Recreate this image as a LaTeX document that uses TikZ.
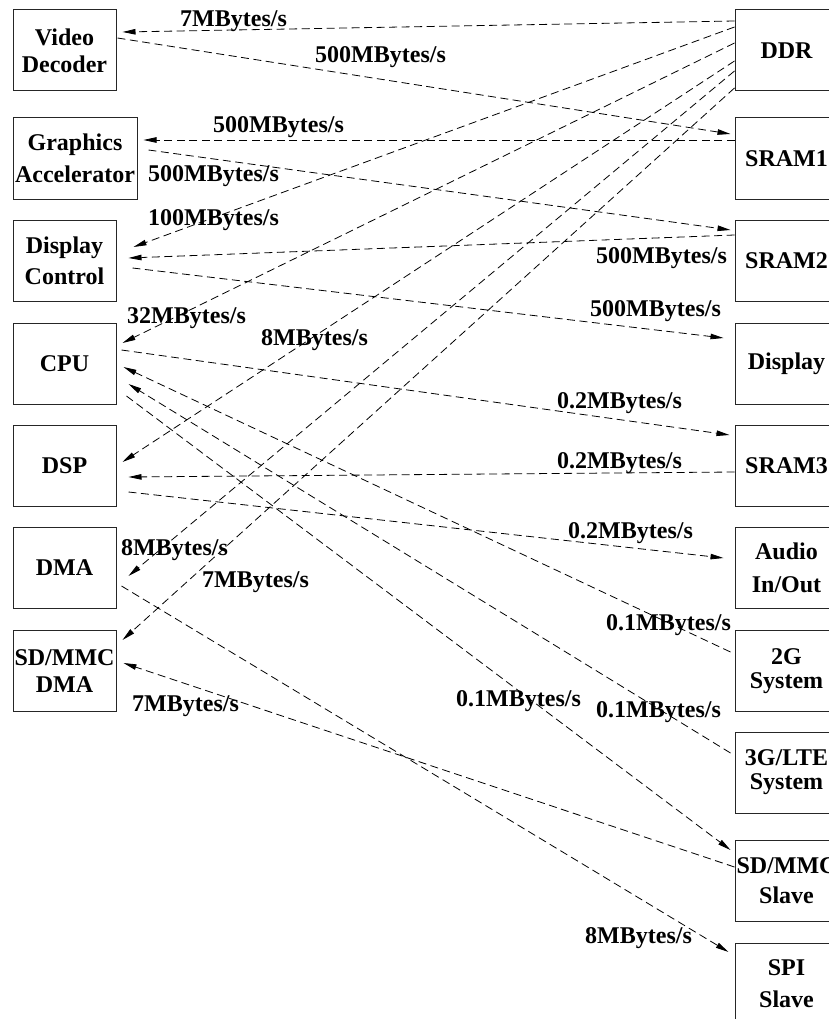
\documentclass[tikz,border=0pt]{standalone}
\usepackage{fontspec}
\setmainfont{Liberation Serif}
\usetikzlibrary{arrows.meta}
\begin{document}
\begin{tikzpicture}[x=1pt,y=-1pt,
  font=\fontsize{24}{27}\selectfont\bfseries,
  unit/.style={draw=black!85, line width=1pt, minimum width=103pt,
    minimum height=81pt, inner sep=0pt, align=center},
  flow/.style={dash pattern=on 8pt off 4.5pt, line width=0.8pt,
    -{Triangle[length=13pt,width=5.5pt]}},
  rate/.style={anchor=base west, inner sep=0pt}]
\useasboundingbox (0,0) rectangle (829,1019);
\clip (0,0) rectangle (829,1019);

% masters
\node[unit] (vd) at (64.5,50.5) {Video\\Decoder};
\node[unit, minimum width=124pt] (ga) at (75,158.5) {Graphics\\[5pt]Accelerator};
\node[unit] (dc) at (64.5,260.5) {Display\\[4pt]Control};
\node[unit] (cpu) at (64.5,363.5) {CPU};
\node[unit] (dsp) at (64.5,466) {DSP};
\node[unit] (dma) at (64.5,568) {DMA};
\node[unit] (sdd) at (64.5,671) {SD/MMC\\DMA};

% slaves
\node[unit] (ddr) at (786.5,50.5) {DDR};
\node[unit] (s1) at (786.5,158.5) {SRAM1};
\node[unit] (s2) at (786.5,260.5) {SRAM2};
\node[unit] (disp) at (786.5,363.5) {Display};
\node[unit] (s3) at (786.5,466) {SRAM3};
\node[unit] (aud) at (786.5,568) {Audio\\[6pt]In/Out};
\node[unit] (g2) at (786.5,671) {2G\\[-3pt]System};
\node[unit] (g3) at (786.5,772.5) {3G/LTE\\[-3pt]System};
\node[unit] (sds) at (786.5,881) {SD/MMC\\[3pt]Slave};
\node[unit] (spi) at (786.5,983.5) {SPI\\[5pt]Slave};

% traffic flows
\draw[flow] ([shift={(0,-29.5)}]ddr.west) -- ([shift={(6,-18.5)}]vd.east);
\draw[flow] ([shift={(1,-12.5)}]vd.east) -- ([shift={(-4,-24.5)}]s1.west);
\draw[flow] ([shift={(0,-18.5)}]s1.west) -- ([shift={(6,-18.5)}]ga.east);
\draw[flow] ([shift={(11,-8.5)}]ga.east) -- ([shift={(-4,-30.5)}]s2.west);
\draw[flow] ([shift={(0,-23.5)}]ddr.west) -- ([shift={(17,-13.5)}]dc.east);
\draw[flow] ([shift={(0,-25.5)}]s2.west) -- ([shift={(12,-2.5)}]dc.east);
\draw[flow] ([shift={(16,7.5)}]dc.east) -- ([shift={(-11,-25.5)}]disp.west);
\draw[flow] ([shift={(0,-7.5)}]ddr.west) -- ([shift={(6,-20.5)}]cpu.east);
\draw[flow] ([shift={(5,-13.5)}]cpu.east) -- ([shift={(-5,-31)}]s3.west);
\draw[flow] ([shift={(-4,-19)}]g2.west) -- ([shift={(7,3.5)}]cpu.east);
\draw[flow] ([shift={(-4,-19.5)}]g3.west) -- ([shift={(12,20.5)}]cpu.east);
\draw[flow] ([shift={(10,32.5)}]cpu.east) -- ([shift={(-4,-31)}]sds.west);
\draw[flow] ([shift={(0,10.5)}]ddr.west) -- ([shift={(6,-4)}]dsp.east);
\draw[flow] ([shift={(0,6)}]s3.west) -- ([shift={(12,11)}]dsp.east);
\draw[flow] ([shift={(12,26)}]dsp.east) -- ([shift={(-11,-10)}]aud.west);
\draw[flow] ([shift={(0,20.5)}]ddr.west) -- ([shift={(12,8)}]dma.east);
\draw[flow] ([shift={(5,18)}]dma.east) -- ([shift={(-6,-31.5)}]spi.west);
\draw[flow] ([shift={(0,37.5)}]ddr.west) -- ([shift={(6,-31)}]sdd.east);
\draw[flow] ([shift={(0,-14)}]sds.west) -- ([shift={(7,-8)}]sdd.east);

% bandwidth labels
\node[rate] (r1) at (180,27) {7MBytes/s};
\node[rate] (r2) at (315,63) {500MBytes/s};
\node[rate] (r3) at (213,133) {500MBytes/s};
\node[rate] (r4) at (148,182) {500MBytes/s};
\node[rate] (r5) at (148,225) {100MBytes/s};
\node[rate] (r6) at (596,263) {500MBytes/s};
\node[rate] (r7) at (590,316) {500MBytes/s};
\node[rate] (r8) at (127,323) {32MBytes/s};
\node[rate] (r9) at (261,345) {8MBytes/s};
\node[rate] (r10) at (557,408) {0.2MBytes/s};
\node[rate] (r11) at (557,468) {0.2MBytes/s};
\node[rate] (r12) at (568,538) {0.2MBytes/s};
\node[rate] (r13) at (121,555) {8MBytes/s};
\node[rate] (r14) at (202,587) {7MBytes/s};
\node[rate] (r15) at (606,630) {0.1MBytes/s};
\node[rate] (r16) at (456,706) {0.1MBytes/s};
\node[rate] (r17) at (596,717) {0.1MBytes/s};
\node[rate] (r18) at (132,711) {7MBytes/s};
\node[rate] (r19) at (585,943) {8MBytes/s};
\end{tikzpicture}
\end{document}
